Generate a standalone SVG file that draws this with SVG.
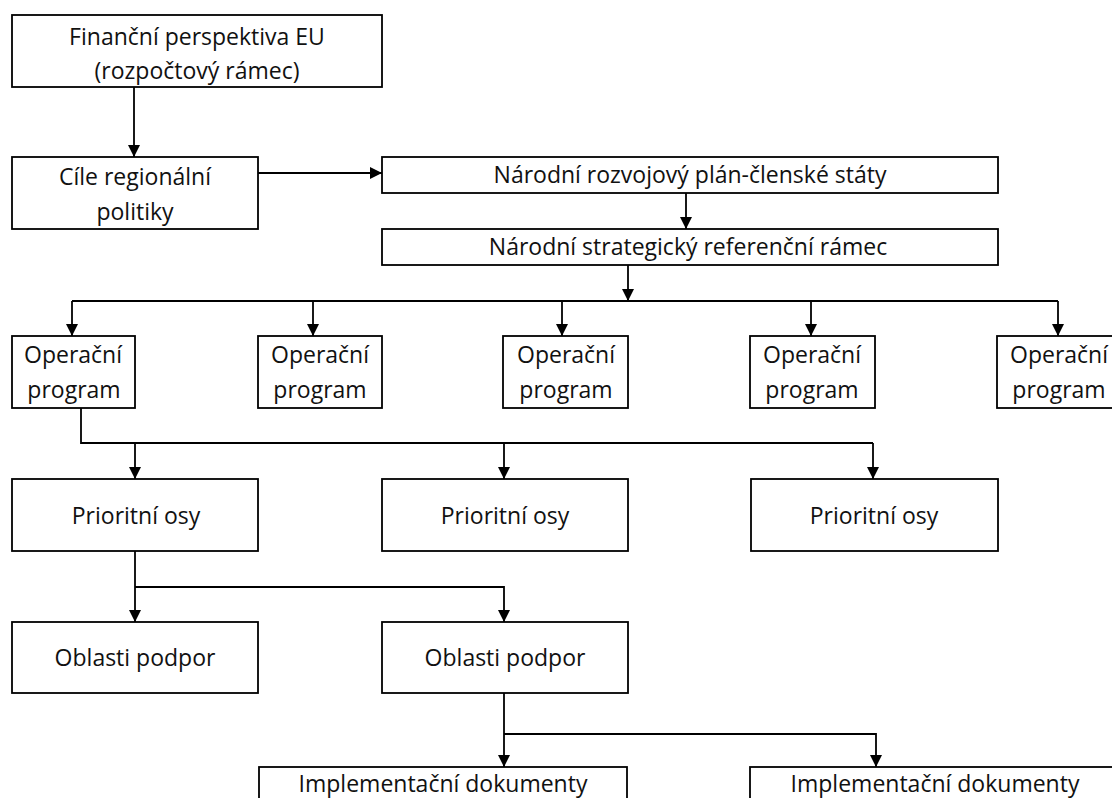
<svg xmlns="http://www.w3.org/2000/svg" width="1112" height="798" viewBox="0 0 1112 798">
<defs>
<style>
.box{fill:#fff;stroke:#000;stroke-width:1.8}
.t{font-family:"Open Sans","Liberation Sans",Arial,sans-serif;font-size:23px;fill:#111;text-anchor:middle;dominant-baseline:central}
.c{fill:none;stroke:#000;stroke-width:1.8}
.a{marker-end:url(#arr)}
</style>
<marker id="arr" viewBox="0 0 10 10" refX="10" refY="5" markerWidth="12" markerHeight="14" markerUnits="userSpaceOnUse" orient="auto">
<path d="M0,0 L10,5 L0,10 z" fill="#000"/>
</marker>
</defs>
<rect width="1112" height="798" fill="#fff"/>
<g id="connectors">
<path class="c a" d="M134,87 V157"/>
<path class="c a" d="M258,173 H382"/>
<path class="c a" d="M686,193 V229"/>
<path class="c a" d="M628,265 V301"/>
<path class="c" d="M72,301 H1058"/>
<path class="c a" d="M72,301 V336"/>
<path class="c a" d="M313,301 V336"/>
<path class="c a" d="M562,301 V336"/>
<path class="c a" d="M811,301 V336"/>
<path class="c a" d="M1058,301 V336"/>
<path class="c" d="M81,408 V443 H873"/>
<path class="c a" d="M135,443 V479"/>
<path class="c a" d="M504,443 V479"/>
<path class="c a" d="M873,443 V479"/>
<path class="c a" d="M135,551 V622"/>
<path class="c a" d="M135,587 H504 V622"/>
<path class="c a" d="M504,693 V767"/>
<path class="c a" d="M504,734 H876 V767"/>
</g>
<g id="n1"><rect class="box" x="12" y="15" width="370" height="72"/><text class="t" x="197" y="36">Finanční perspektiva EU</text><text class="t" x="197" y="70">(rozpočtový rámec)</text></g>
<g id="n2"><rect class="box" x="12" y="157" width="246" height="72"/><text class="t" x="135" y="176">Cíle regionální</text><text class="t" x="135" y="211">politiky</text></g>
<g id="n3"><rect class="box" x="382" y="157" width="616" height="36"/><text class="t" x="690" y="174">Národní rozvojový plán-členské státy</text></g>
<g id="n4"><rect class="box" x="382" y="229" width="616" height="36"/><text class="t" x="688" y="246">Národní strategický referenční rámec</text></g>
<g id="op1"><rect class="box" x="12" y="336" width="123" height="72"/><text class="t" x="73" y="354">Operační</text><text class="t" x="74" y="389">program</text></g>
<g id="op2"><rect class="box" x="258" y="336" width="124" height="72"/><text class="t" x="320" y="354">Operační</text><text class="t" x="320" y="389">program</text></g>
<g id="op3"><rect class="box" x="503" y="336" width="125" height="72"/><text class="t" x="566" y="354">Operační</text><text class="t" x="566" y="389">program</text></g>
<g id="op4"><rect class="box" x="750" y="336" width="125" height="72"/><text class="t" x="812" y="354">Operační</text><text class="t" x="812" y="389">program</text></g>
<g id="op5"><rect class="box" x="997" y="336" width="130" height="72"/><text class="t" x="1059" y="354">Operační</text><text class="t" x="1059" y="389">program</text></g>
<g id="po1"><rect class="box" x="12" y="479" width="246" height="72"/><text class="t" x="136" y="515">Prioritní osy</text></g>
<g id="po2"><rect class="box" x="382" y="479" width="246" height="72"/><text class="t" x="505" y="515">Prioritní osy</text></g>
<g id="po3"><rect class="box" x="751" y="479" width="247" height="72"/><text class="t" x="874" y="515">Prioritní osy</text></g>
<g id="ob1"><rect class="box" x="12" y="622" width="246" height="71"/><text class="t" x="135" y="657">Oblasti podpor</text></g>
<g id="ob2"><rect class="box" x="382" y="622" width="246" height="71"/><text class="t" x="505" y="657">Oblasti podpor</text></g>
<g id="im1"><rect class="box" x="259" y="767" width="368" height="60"/><text class="t" x="443" y="783">Implementační dokumenty</text></g>
<g id="im2"><rect class="box" x="750" y="767" width="370" height="60"/><text class="t" x="935" y="783">Implementační dokumenty</text></g>
</svg>
